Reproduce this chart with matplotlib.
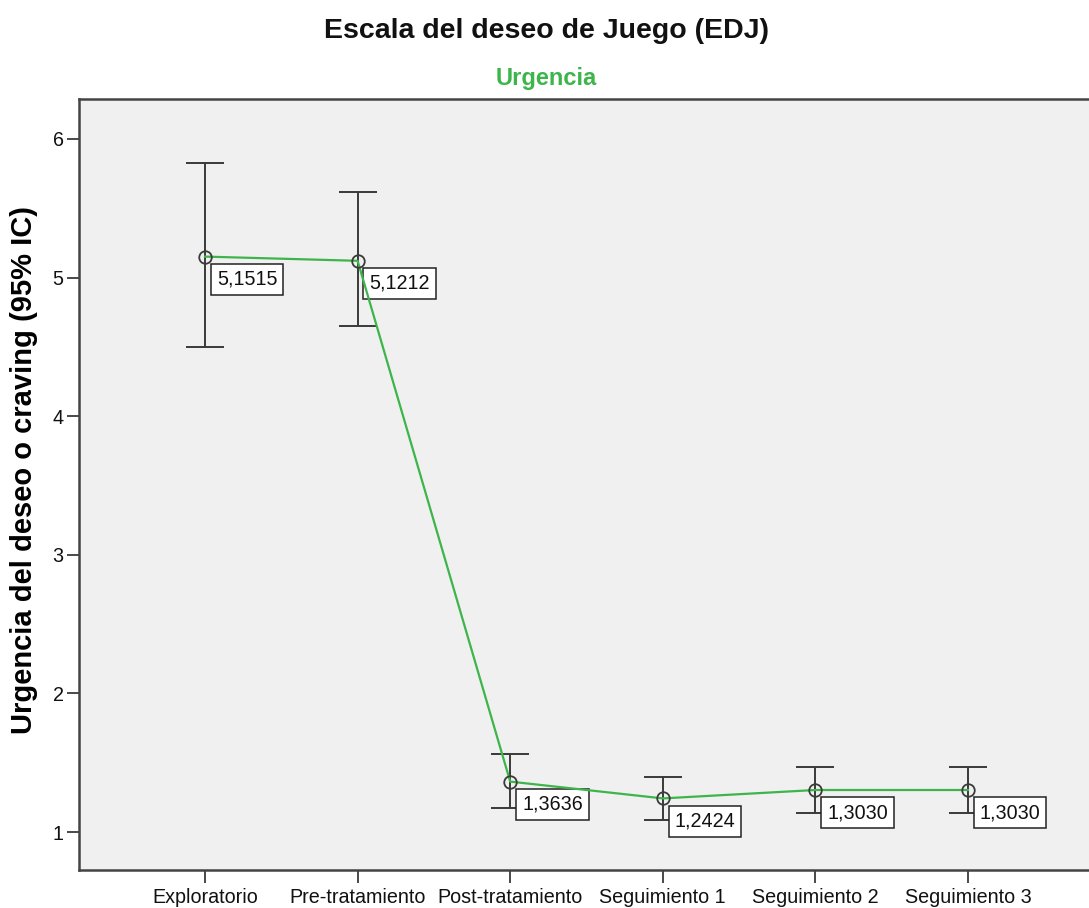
import matplotlib
matplotlib.use("Agg")
import matplotlib.pyplot as plt

plt.rcParams['font.family'] = ['Liberation Sans', 'DejaVu Sans']

categories = ["Exploratorio", "Pre-tratamiento", "Post-tratamiento",
              "Seguimiento 1", "Seguimiento 2", "Seguimiento 3"]
means = [5.1515, 5.1212, 1.3636, 1.2424, 1.3030, 1.3030]
ci_upper = [5.827, 5.618, 1.563, 1.397, 1.469, 1.469]
ci_lower = [4.499, 4.651, 1.173, 1.087, 1.137, 1.137]
value_labels = ["5,1515", "5,1212", "1,3636", "1,2424", "1,3030", "1,3030"]
y_ticks = [1, 2, 3, 4, 5, 6]

W, H = 1089, 908
fig = plt.figure(figsize=(W / 100, H / 100), dpi=100)
ax_left, ax_right, ax_top, ax_bottom = 79, 1095, 99, 870
ax = fig.add_axes([ax_left / W, 1 - ax_bottom / H, (ax_right - ax_left) / W,
                   (ax_bottom - ax_top) / H])
ax.set_facecolor('#f0f0f0')

x = list(range(len(categories)))
green = '#3DB54A'
dark = '#3a3a3a'

err_lo = [m - l for m, l in zip(means, ci_lower)]
err_hi = [u - m for m, u in zip(means, ci_upper)]
ax.errorbar(x, means, yerr=[err_lo, err_hi], fmt='none', ecolor=dark,
            elinewidth=1.4, capsize=13.5, capthick=1.4, zorder=2)
ax.plot(x, means, color=green, lw=1.6, zorder=4)
ax.plot(x, means, 'o', mfc='none', mec=dark, ms=9, mew=1.3, zorder=5)

for xi, m, lab in zip(x, means, value_labels):
    ax.annotate(lab, (xi, m), xytext=(8.5, -9.5), textcoords='offset points',
                ha='left', va='top', fontsize=14.2, color='#111111', zorder=3,
                bbox=dict(boxstyle='square,pad=0.3', fc='white', ec='#222222', lw=1.1))

scale = 152.6
xmin = -(205 - ax_left) / scale
ax.set_xlim(xmin, xmin + (ax_right - ax_left) / scale)
ypx = 138.6
ax.set_ylim(1 - (ax_bottom - 832) / ypx, 6 + (139 - ax_top) / ypx)

ax.set_xticks(x)
ax.set_xticklabels(categories, fontsize=14.2)
ax.set_yticks(y_ticks)
ax.set_yticklabels([str(t) for t in y_ticks], fontsize=14.2)
ax.tick_params(axis='both', direction='out', length=9, width=1.3, color=dark,
               labelcolor='#111111', pad=2)
ax.tick_params(axis='x', pad=4)

for s in ['left', 'top', 'bottom', 'right']:
    ax.spines[s].set_color('#444444')
    ax.spines[s].set_linewidth(1.8)

ax.set_ylabel("Urgencia del deseo o craving (95% IC)", fontsize=21,
              fontweight='bold')
ax.yaxis.set_label_coords((38 - ax_left) / (ax_right - ax_left),
                          (ax_bottom - 470) / (ax_bottom - ax_top))

fig.text(546 / W, 1 - 31 / H, "Escala del deseo de Juego (EDJ)", ha='center',
         va='center', fontsize=20.5, fontweight='bold', color='#111111')
fig.text(546 / W, 1 - 78 / H, "Urgencia", ha='center', va='center',
         fontsize=17, fontweight='bold', color=green)

fig.savefig("out.png", dpi=100, facecolor='white')
